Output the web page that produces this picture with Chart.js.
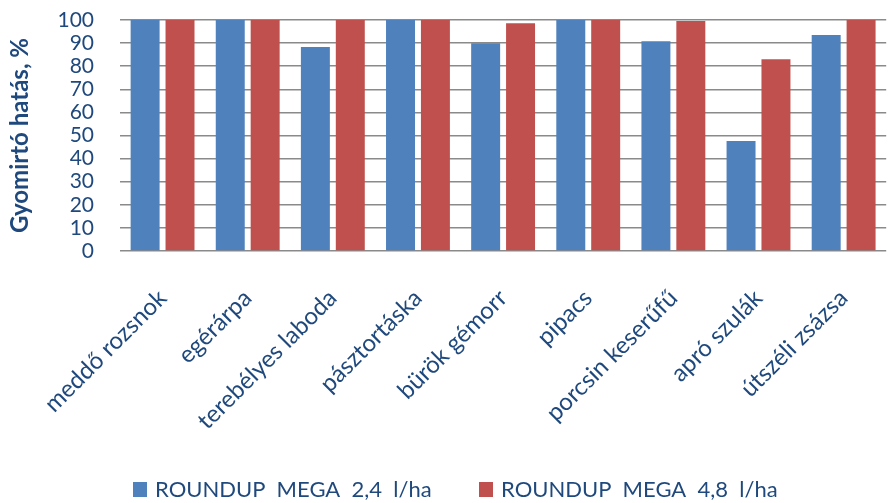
<!DOCTYPE html>
<html>
<head>
<meta charset="utf-8">
<script src="https://cdn.jsdelivr.net/npm/chart.js@4"></script>
<style>
    html, body { margin: 0; padding: 0; background: #fff; }
    #wrap { width: 889px; height: 503px; }
</style>
</head>
<body>
<div id="wrap"><canvas id="chart"></canvas></div>
<script>
const categories = ["meddő rozsnok", "egérárpa", "terebélyes laboda", "pásztortáska", "bürök gémorr",
    "pipacs", "porcsin keserűfű", "apró szulák", "útszéli zsázsa"];
const dose24 = [100, 100, 88.3, 100, 89.9, 100, 90.8, 47.6, 93.5];
const dose48 = [100, 100, 100, 100, 98.6, 100, 99.6, 83, 100];
const seriesNames = ["ROUNDUP  MEGA  2,4  l/ha", "ROUNDUP  MEGA  4,8  l/ha"];
const yTicks = [0, 10, 20, 30, 40, 50, 60, 70, 80, 90, 100];

const textColor = "#1F497D";
const fontFamily = "Lato, 'Open Sans', sans-serif";

// legend drawn by hand so the two items can sit far apart like in the original
const bottomLegend = {
    id: "bottomLegend",
    afterDraw(chart) {
        const ctx = chart.ctx;
        const starts = [133, 479];
        const y = 490;
        ctx.save();
        ctx.font = `22px ${fontFamily}`;
        ctx.textBaseline = "middle";
        chart.data.datasets.forEach((ds, i) => {
            ctx.fillStyle = ds.backgroundColor;
            ctx.fillRect(starts[i], y - 8, 14, 15);
            ctx.fillStyle = textColor;
            ctx.fillText(ds.label, starts[i] + 22, y);
        });
        ctx.restore();
    }
};

new Chart(document.getElementById("chart"), {
    type: "bar",
    data: {
        labels: categories,
        datasets: [{
            label: seriesNames[0],
            data: dose24,
            backgroundColor: "#4F81BD"
        }, {
            label: seriesNames[1],
            data: dose48,
            backgroundColor: "#C0504D"
        }]
    },
    plugins: [bottomLegend],
    options: {
        responsive: true,
        maintainAspectRatio: false,
        animation: false,
        layout: { padding: { top: 20, right: 0, left: 4, bottom: 0 } },
        datasets: { bar: { categoryPercentage: 0.82, barPercentage: 0.83 } },
        plugins: {
            tooltip: { enabled: false },
            legend: { display: false }
        },
        scales: {
            x: {
                grid: { display: false },
                border: { display: false },
                ticks: {
                    color: textColor,
                    font: { family: fontFamily, size: 24 },
                    maxRotation: 45,
                    minRotation: 45,
                    padding: 25
                },
                afterFit(scale) { scale.height = 252; }
            },
            y: {
                min: 0,
                max: 100,
                afterBuildTicks(scale) { scale.ticks = yTicks.map(v => ({ value: v })); },
                afterFit(scale) { scale.width = 116; },
                grid: {
                    color: "#8A8A8A",
                    lineWidth: 1.6,
                    drawTicks: true,
                    tickLength: 26,
                    tickColor: "rgba(0,0,0,0)"
                },
                border: { display: false },
                ticks: {
                    color: textColor,
                    font: { family: fontFamily, size: 21 },
                    padding: 0,
                    autoSkip: false
                },
                title: {
                    display: true,
                    text: "Gyomirtó hatás, %",
                    color: textColor,
                    font: { family: fontFamily, size: 24, weight: "bold" },
                    padding: { top: 2, bottom: 0 }
                }
            }
        }
    }
});
</script>
</body>
</html>
